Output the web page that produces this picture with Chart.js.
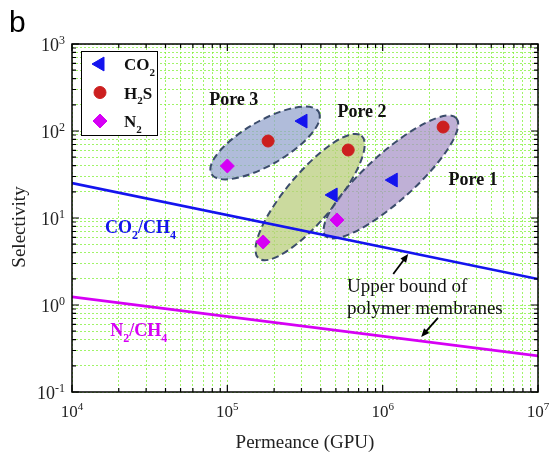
<!DOCTYPE html>
<html>
<head>
<meta charset="utf-8">
<script src="https://cdn.jsdelivr.net/npm/chart.js@4.4.0/dist/chart.umd.min.js"></script>
<style>
  body { margin: 0; background: #fff; }
</style>
</head>
<body>
<canvas id="chart" width="549" height="452"></canvas>
<script>
// points, order is Pore 3, Pore 2, Pore 1
const co2Permeance = [3.07e5, 4.8e5, 1.17e6];
const co2Selectivity = [130, 18.4, 27.3];
const h2sPermeance = [1.83e5, 6.0e5, 2.45e6];
const h2sSelectivity = [76.7, 60.5, 111];
const n2Permeance = [1.0e5, 1.7e5, 5.08e5];
const n2Selectivity = [39.6, 5.3, 9.5];

// upper bound of polymer membranes
const boundPermeance = [1e4, 1e7];
const co2BoundSelectivity = [25.2, 1.99];
const n2BoundSelectivity = [1.24, 0.26];

const seriesLabels = ['CO_2', 'H_2S', 'N_2'];
const xTicks = [1e4, 1e5, 1e6, 1e7];
const xTickLabels = ['10^4', '10^5', '10^6', '10^7'];
const yTicks = [0.1, 1, 10, 100, 1000];
const yTickLabels = ['10^-1', '10^0', '10^1', '10^2', '10^3'];

const serif = '"Liberation Serif", "Times New Roman", serif';
const gridColor = 'rgba(120, 240, 40, 0.7)';
const blue = '#1414ee';
const red = '#cc1f1f';
const magenta = '#d600f5';

// ellipses round each pore group (centre in data units, radii in px)
const poreEllipses = [
  {x: 1.75e5, y: 72.8, rx: 62, ry: 22, angle: 30, fill: 'rgba(150,165,205,0.75)'},
  {x: 3.41e5, y: 17.4, rx: 80, ry: 24, angle: 50, fill: 'rgba(185,205,125,0.75)'},
  {x: 1.13e6, y: 29.6, rx: 88, ry: 24, angle: 42, fill: 'rgba(170,150,200,0.75)'}
];

const notes = [
  {text: 'Pore 3', x: 1.1e5, y: 199, align: 'center', weight: 'bold', size: 18, color: '#111'},
  {text: 'Pore 2', x: 7.36e5, y: 145, align: 'center', weight: 'bold', size: 18, color: '#111'},
  {text: 'Pore 1', x: 3.82e6, y: 23.9, align: 'center', weight: 'bold', size: 18, color: '#111'},
  {text: 'CO_2/CH_4', x: 1.63e4, y: 6.73, align: 'left', weight: 'bold', size: 18, color: blue},
  {text: 'N_2/CH_4', x: 1.76e4, y: 0.44, align: 'left', weight: 'bold', size: 18, color: magenta},
  {text: 'Upper bound of', x: 5.9e5, y: 1.41, align: 'left', weight: 'normal', size: 19, color: '#111'},
  {text: 'polymer membranes', x: 5.9e5, y: 0.789, align: 'left', weight: 'normal', size: 19, color: '#111'}
];

const arrows = [
  {x0: 1.17e6, y0: 2.27, x1: 1.46e6, y1: 3.86},
  {x0: 2.27e6, y0: 0.71, x1: 1.77e6, y1: 0.43}
];

function toPoints(xs, ys) {
  return xs.map((v, i) => ({x: v, y: ys[i]}));
}

function withMinors(majors) {
  const out = [];
  for (let i = 0; i < majors.length - 1; i++) {
    for (let k = 1; k < 10; k++) out.push(majors[i] * k);
  }
  out.push(majors[majors.length - 1]);
  return out;
}

// draws text with _x subscripts and ^n superscripts, baseline at y
function richText(ctx, str, x, y, size, weight, align, color) {
  const parts = str.match(/_.|\^-?\d+|[^_^]+/g);
  const small = Math.round(size * 0.65);
  const pieces = parts.map(p => {
    if (p[0] === '_') return {t: p.slice(1), s: small, dy: size * 0.33};
    if (p[0] === '^') return {t: p.slice(1), s: small, dy: -size * 0.4};
    return {t: p, s: size, dy: 0};
  });
  let total = 0;
  pieces.forEach(p => {
    ctx.font = weight + ' ' + p.s + 'px ' + serif;
    p.w = ctx.measureText(p.t).width;
    total += p.w;
  });
  let cx = align === 'center' ? x - total / 2 : align === 'right' ? x - total : x;
  ctx.fillStyle = color;
  ctx.textAlign = 'left';
  ctx.textBaseline = 'alphabetic';
  pieces.forEach(p => {
    ctx.font = weight + ' ' + p.s + 'px ' + serif;
    ctx.fillText(p.t, cx, y + p.dy);
    cx += p.w;
  });
}

const decorPlugin = {
  id: 'decor',
  beforeDatasetsDraw(chart) {
    const {ctx, scales: {x, y}} = chart;
    ctx.save();
    poreEllipses.forEach(e => {
      ctx.beginPath();
      ctx.ellipse(x.getPixelForValue(e.x), y.getPixelForValue(e.y), e.rx, e.ry,
        -e.angle * Math.PI / 180, 0, Math.PI * 2);
      ctx.fillStyle = e.fill;
      ctx.fill();
      ctx.setLineDash([7, 4]);
      ctx.lineWidth = 2;
      ctx.strokeStyle = '#3b4c6b';
      ctx.stroke();
    });
    ctx.restore();
  },
  afterDatasetsDraw(chart) {
    const {ctx, scales: {x, y}} = chart;
    ctx.save();
    notes.forEach(n => {
      richText(ctx, n.text, x.getPixelForValue(n.x), y.getPixelForValue(n.y),
        n.size, n.weight, n.align, n.color);
    });
    ctx.strokeStyle = '#000';
    ctx.fillStyle = '#000';
    ctx.lineWidth = 1.8;
    arrows.forEach(a => {
      const x0 = x.getPixelForValue(a.x0), y0 = y.getPixelForValue(a.y0);
      const x1 = x.getPixelForValue(a.x1), y1 = y.getPixelForValue(a.y1);
      const ang = Math.atan2(y1 - y0, x1 - x0);
      ctx.beginPath();
      ctx.moveTo(x0, y0);
      ctx.lineTo(x1 - 6 * Math.cos(ang), y1 - 6 * Math.sin(ang));
      ctx.stroke();
      ctx.beginPath();
      ctx.moveTo(x1, y1);
      ctx.lineTo(x1 - 9 * Math.cos(ang - 0.4), y1 - 9 * Math.sin(ang - 0.4));
      ctx.lineTo(x1 - 9 * Math.cos(ang + 0.4), y1 - 9 * Math.sin(ang + 0.4));
      ctx.closePath();
      ctx.fill();
    });
    ctx.restore();
  },
  afterDraw(chart) {
    const {ctx, chartArea: area, scales: {x, y}} = chart;
    ctx.save();
    // frame and inward ticks
    ctx.strokeStyle = '#000';
    ctx.lineWidth = 1.5;
    ctx.strokeRect(area.left, area.top, area.right - area.left, area.bottom - area.top);
    ctx.lineWidth = 1.2;
    ctx.beginPath();
    x.ticks.forEach(t => {
      const px = x.getPixelForValue(t.value);
      const len = xTicks.includes(t.value) ? 7 : 4;
      ctx.moveTo(px, area.bottom); ctx.lineTo(px, area.bottom - len);
      ctx.moveTo(px, area.top); ctx.lineTo(px, area.top + len);
    });
    y.ticks.forEach(t => {
      const py = y.getPixelForValue(t.value);
      const len = yTicks.includes(t.value) ? 7 : 4;
      ctx.moveTo(area.left, py); ctx.lineTo(area.left + len, py);
      ctx.moveTo(area.right, py); ctx.lineTo(area.right - len, py);
    });
    ctx.stroke();

    // tick labels
    xTicks.forEach((v, i) => {
      richText(ctx, xTickLabels[i], x.getPixelForValue(v), area.bottom + 25, 17, 'normal', 'center', '#222');
    });
    yTicks.forEach((v, i) => {
      richText(ctx, yTickLabels[i], area.left - 7, y.getPixelForValue(v) + 7, 18, 'normal', 'right', '#222');
    });

    // axis titles
    richText(ctx, 'Permeance (GPU)', (area.left + area.right) / 2, 448, 19, 'normal', 'center', '#222');
    ctx.save();
    ctx.translate(25, 227);
    ctx.rotate(-Math.PI / 2);
    richText(ctx, 'Selectivity', 0, 0, 19, 'normal', 'center', '#222');
    ctx.restore();

    // panel letter
    ctx.font = '30px "Liberation Sans", Arial, sans-serif';
    ctx.fillStyle = '#000';
    ctx.textAlign = 'left';
    ctx.fillText('b', 9, 32);

    // legend
    const bx = area.left + 9, by = area.top + 7;
    ctx.fillStyle = '#fff';
    ctx.fillRect(bx, by, 76, 84);
    ctx.strokeStyle = '#000';
    ctx.lineWidth = 1;
    ctx.setLineDash([]);
    ctx.strokeRect(bx + 0.5, by + 0.5, 76, 84);
    chart.data.datasets.slice(0, 3).forEach((ds, i) => {
      const my = by + 13 + i * 28.5;
      ctx.fillStyle = ds.pointBackgroundColor;
      ctx.strokeStyle = ds.pointBackgroundColor;
      Chart.helpers.drawPoint(ctx, {
        pointStyle: ds.pointStyle, rotation: ds.pointRotation || 0,
        radius: ds.pointRadius, borderWidth: 1
      }, bx + 19, my);
      richText(ctx, seriesLabels[i], bx + 43, my + 6, 17, 'bold', 'left', '#111');
    });
    ctx.restore();
  }
};

const logAxis = (min, max, majors) => ({
  type: 'logarithmic',
  min: min,
  max: max,
  afterBuildTicks: scale => {
    scale.ticks = withMinors(majors).map(v => ({value: v}));
  },
  ticks: {display: false},
  grid: {color: gridColor, lineWidth: 1, drawTicks: false},
  border: {display: false, dash: [2, 2]}
});

new Chart(document.getElementById('chart'), {
  type: 'scatter',
  data: {
    datasets: [
      {
        data: toPoints(co2Permeance, co2Selectivity),
        pointStyle: 'triangle', pointRotation: -90, pointRadius: 8,
        pointBackgroundColor: blue, pointBorderColor: blue, pointBorderWidth: 1
      },
      {
        data: toPoints(h2sPermeance, h2sSelectivity),
        pointStyle: 'circle', pointRadius: 6,
        pointBackgroundColor: red, pointBorderColor: red, pointBorderWidth: 1
      },
      {
        data: toPoints(n2Permeance, n2Selectivity),
        pointStyle: 'rectRot', pointRadius: 7,
        pointBackgroundColor: magenta, pointBorderColor: magenta, pointBorderWidth: 1
      },
      {
        data: toPoints(boundPermeance, co2BoundSelectivity),
        showLine: true, pointRadius: 0, borderColor: blue, borderWidth: 2.6
      },
      {
        data: toPoints(boundPermeance, n2BoundSelectivity),
        showLine: true, pointRadius: 0, borderColor: magenta, borderWidth: 2.6
      }
    ]
  },
  options: {
    responsive: false,
    animation: false,
    layout: {padding: {left: 72, right: 11, top: 44, bottom: 60}},
    scales: {
      x: logAxis(1e4, 1e7, xTicks),
      y: logAxis(0.1, 1000, yTicks)
    },
    plugins: {
      legend: {display: false},
      tooltip: {enabled: false}
    }
  },
  plugins: [decorPlugin]
});
</script>
</body>
</html>
